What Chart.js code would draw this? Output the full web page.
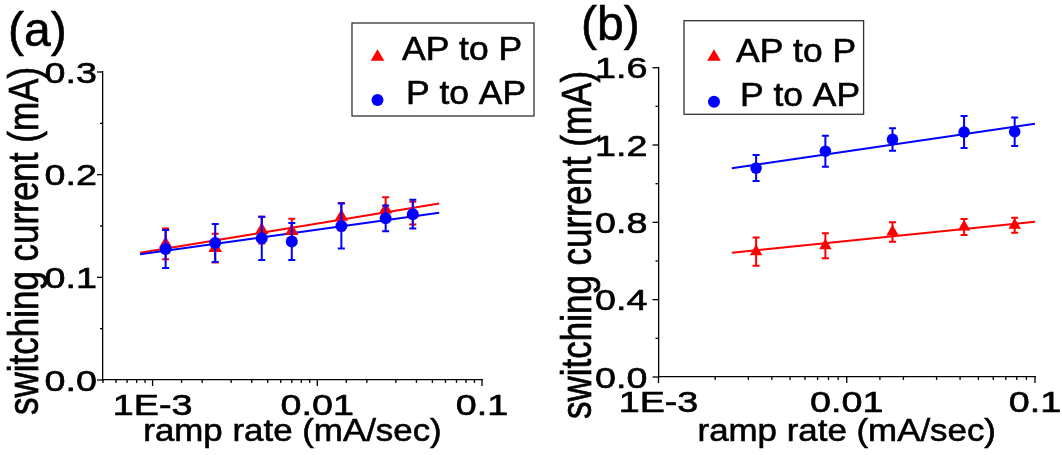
<!DOCTYPE html>
<html>
<head>
<meta charset="utf-8">
<title>switching current vs ramp rate</title>
<script src="https://cdn.jsdelivr.net/npm/chart.js@4.4.1/dist/chart.umd.min.js"></script>
<style>
  html, body { margin: 0; padding: 0; background: #fff; }
  #wrap { position: relative; width: 1062px; height: 455px; overflow: hidden; }
  .panel { position: absolute; top: 0; height: 455px; }
  #panelA { left: 0; width: 540px; }
  #panelB { left: 531px; width: 531px; }
</style>
</head>
<body>
<div id="wrap">
  <div class="panel" id="panelA"><canvas id="chartA"></canvas></div>
  <div class="panel" id="panelB"><canvas id="chartB"></canvas></div>
</div>
<script>
const FONT = '"Liberation Sans", Arial, sans-serif';
const RED = '#ff0000';
const BLUE = '#0000ff';
const seriesNames = ['AP to P', 'P to AP'];

// (a) ramp rate (mA/sec) and switching current (mA)
const rampA = [0.0012, 0.0024, 0.0046, 0.007, 0.014, 0.026, 0.038];
const apToPA = [0.1325, 0.1285, 0.146, 0.145, 0.159, 0.166, 0.1625];
const apToPErrA = [0.015, 0.014, 0.013, 0.012, 0.0135, 0.012, 0.011];
const pToApA = [0.1275, 0.1335, 0.138, 0.135, 0.150, 0.1575, 0.1615];
const pToApErrA = [0.0185, 0.0185, 0.021, 0.018, 0.022, 0.0125, 0.014];
const fitRampA = [0.00084, 0.055];
const fitApToPA = [0.124, 0.172];
const fitPToApA = [0.1225, 0.163];
const xTicksA = [0.001, 0.01, 0.1];
const xLabelsA = ['1E-3', '0.01', '0.1'];
const yTicksA = [0, 0.1, 0.2, 0.3];
const yLabelsA = ['0.0', '0.1', '0.2', '0.3'];

// (b)
const rampB = [0.0033, 0.0077, 0.0175, 0.042, 0.078];
const apToPB = [0.649, 0.679, 0.75, 0.776, 0.785];
const apToPErrB = [0.073, 0.065, 0.05, 0.041, 0.039];
const pToApB = [1.081, 1.168, 1.229, 1.267, 1.269];
const pToApErrB = [0.067, 0.08, 0.058, 0.083, 0.074];
const fitRampB = [0.00245, 0.1];
const fitApToPB = [0.643, 0.803];
const fitPToApB = [1.08, 1.31];
const xTicksB = [0.001, 0.01, 0.1];
const xLabelsB = ['1E-3', '0.01', '0.1'];
const yTicksB = [0, 0.4, 0.8, 1.2, 1.6];
const yLabelsB = ['0.0', '0.4', '0.8', '1.2', '1.6'];

const pts = (xs, ys) => xs.map((x, i) => ({ x, y: ys[i] }));

// text with an optional horizontal/vertical stretch, slightly thickened
function text(ctx, str, x, y, o) {
  ctx.save();
  ctx.translate(x, y);
  if (o.rotate) ctx.rotate(o.rotate);
  ctx.scale(o.sx || 1, o.sy || 1);
  ctx.font = o.font;
  ctx.fillStyle = '#000';
  ctx.strokeStyle = '#000';
  ctx.lineWidth = 0.6;
  ctx.textAlign = o.align || 'left';
  ctx.textBaseline = 'alphabetic';
  ctx.fillText(str, 0, 0);
  ctx.strokeText(str, 0, 0);
  ctx.restore();
}

function seg(ctx, x1, y1, x2, y2) {
  ctx.beginPath();
  ctx.moveTo(x1, y1);
  ctx.lineTo(x2, y2);
  ctx.stroke();
}

function triangle(ctx, cx, cy, w, h) {
  ctx.beginPath();
  ctx.moveTo(cx, cy - h / 2);
  ctx.lineTo(cx + w / 2, cy + h / 2);
  ctx.lineTo(cx - w / 2, cy + h / 2);
  ctx.closePath();
  ctx.fill();
}

// error bars, axis ticks, labels, titles and the boxed legend
const deco = {
  id: 'deco',
  afterDatasetDraw(chart, args) {
    const ds = chart.data.datasets[args.index];
    if (!ds.errors) return;
    const { ctx, scales: { x, y } } = chart;
    ctx.save();
    ctx.strokeStyle = ds.backgroundColor;
    ctx.lineWidth = 2;
    ds.data.forEach((p, i) => {
      const px = x.getPixelForValue(p.x);
      const top = y.getPixelForValue(p.y + ds.errors[i]);
      const bot = y.getPixelForValue(p.y - ds.errors[i]);
      ctx.beginPath();
      ctx.moveTo(px, top); ctx.lineTo(px, bot);
      ctx.moveTo(px - 3.5, top); ctx.lineTo(px + 3.5, top);
      ctx.moveTo(px - 3.5, bot); ctx.lineTo(px + 3.5, bot);
      ctx.stroke();
    });
    ctx.restore();
  },
  afterDraw(chart, args, o) {
    const { ctx, chartArea: area, scales: { x, y } } = chart;
    ctx.save();
    ctx.strokeStyle = '#000';
    ctx.lineWidth = 1.3;
    x.ticks.forEach(t => {
      const major = o.xTicks.some(v => Math.abs(t.value / v - 1) < 1e-6);
      const px = x.getPixelForValue(t.value);
      seg(ctx, px, area.bottom, px, area.bottom + (major ? 6 : 3));
    });
    y.ticks.forEach(t => {
      const major = o.yTicks.some(v => Math.abs(t.value - v) < 1e-9);
      const py = y.getPixelForValue(t.value);
      seg(ctx, area.left, py, area.left - (major ? 6 : 3), py);
    });
    ctx.restore();

    const tickFont = '29px ' + FONT;
    o.xTicks.forEach((v, i) => {
      text(ctx, o.xLabels[i], x.getPixelForValue(v), area.bottom + 35,
        { font: tickFont, sx: 1.3, align: 'center' });
    });
    o.yTicks.forEach((v, i) => {
      text(ctx, o.yLabels[i], area.left - o.yLabelGap, y.getPixelForValue(v) + 10.5,
        { font: tickFont, sx: 1.3, align: 'right' });
    });

    text(ctx, 'ramp rate (mA/sec)', (area.left + area.right) / 2, 441,
      { font: '32px ' + FONT, sx: 1.09, align: 'center' });
    text(ctx, 'switching current (mA)', o.yTitleX, o.yTitleY,
      { font: '35px ' + FONT, sy: 1.2, align: 'center', rotate: -Math.PI / 2 });
    text(ctx, o.tag, o.tagX, o.tagY, { font: '48px ' + FONT });

    // legend box
    const lg = o.legend;
    ctx.save();
    ctx.strokeStyle = '#333';
    ctx.lineWidth = 1.3;
    ctx.strokeRect(lg.x, lg.y, lg.w, lg.h);
    ctx.fillStyle = RED;
    triangle(ctx, lg.mx, lg.my[0], 13.7, 11.5);
    ctx.fillStyle = BLUE;
    ctx.beginPath();
    ctx.arc(lg.mx, lg.my[1], 6, 0, Math.PI * 2);
    ctx.fill();
    ctx.restore();
    seriesNames.forEach((name, i) => {
      text(ctx, name, lg.tx[i], lg.ty[i], { font: '32.5px ' + FONT, sx: 1.09 });
    });
  }
};

function makePanel(id, p) {
  return new Chart(document.getElementById(id), {
    type: 'scatter',
    data: {
      datasets: [
        {
          label: seriesNames[1],
          data: pts(p.ramp, p.pToAp),
          errors: p.pToApErr,
          backgroundColor: BLUE,
          pointStyle: 'circle',
          pointRadius: p.circleR,
          borderWidth: 0,
          order: 0
        },
        {
          label: seriesNames[0],
          data: pts(p.ramp, p.apToP),
          errors: p.apToPErr,
          backgroundColor: RED,
          pointStyle: 'triangle',
          pointRadius: p.triR,
          borderWidth: 0,
          order: 1
        },
        {
          type: 'line',
          label: 'P to AP fit',
          data: pts(p.fitRamp, p.fitPToAp),
          borderColor: BLUE,
          borderWidth: 2,
          pointRadius: 0,
          fill: false,
          order: 2
        },
        {
          type: 'line',
          label: 'AP to P fit',
          data: pts(p.fitRamp, p.fitApToP),
          borderColor: RED,
          borderWidth: 2,
          pointRadius: 0,
          fill: false,
          order: 3
        }
      ]
    },
    options: {
      responsive: true,
      maintainAspectRatio: false,
      animation: false,
      devicePixelRatio: 1,
      layout: { padding: { left: 0, top: p.top, right: p.right, bottom: 0 } },
      plugins: {
        legend: { display: false },
        tooltip: { enabled: false },
        deco: {
          xTicks: p.xTicks, xLabels: p.xLabels,
          yTicks: p.yTicks, yLabels: p.yLabels,
          yLabelGap: p.yLabelGap,
          yTitleX: p.yTitleX, yTitleY: p.yTitleY,
          tag: p.tag, tagX: p.tagX, tagY: p.tagY,
          legend: p.legend
        }
      },
      scales: {
        x: {
          type: 'logarithmic',
          min: p.xMin,
          max: p.xMax,
          ticks: { display: false },
          grid: { display: false },
          border: { display: true, color: '#000', width: 1.3 },
          afterFit: s => { s.height = 455 - p.bottom; }
        },
        y: {
          type: 'linear',
          min: 0,
          max: p.yMax,
          ticks: { display: false, stepSize: p.yStep },
          grid: { display: false },
          border: { display: true, color: '#000', width: 1.3 },
          afterFit: s => { s.width = p.left; }
        }
      }
    },
    plugins: [deco]
  });
}

makePanel('chartA', {
  ramp: rampA, apToP: apToPA, apToPErr: apToPErrA, pToAp: pToApA, pToApErr: pToApErrA,
  fitRamp: fitRampA, fitApToP: fitApToPA, fitPToAp: fitPToApA,
  xTicks: xTicksA, xLabels: xLabelsA, yTicks: yTicksA, yLabels: yLabelsA,
  xMin: 0.0005, xMax: 0.1, yMax: 0.3, yStep: 0.05,
  left: 103, top: 72, right: 58, bottom: 380,
  circleR: 6, triR: 7.8,
  yLabelGap: 6, yTitleX: 38, yTitleY: 241,
  tag: '(a)', tagX: 8, tagY: 46,
  legend: { x: 352, y: 23, w: 182, h: 93, mx: 377.5, my: [55, 100], tx: [402, 406], ty: [59.7, 104] }
});

makePanel('chartB', {
  ramp: rampB, apToP: apToPB, apToPErr: apToPErrB, pToAp: pToApB, pToApErr: pToApErrB,
  fitRamp: fitRampB, fitApToP: fitApToPB, fitPToAp: fitPToApB,
  xTicks: xTicksB, xLabels: xLabelsB, yTicks: yTicksB, yLabels: yLabelsB,
  xMin: 0.001, xMax: 0.1, yMax: 1.6, yStep: 0.2,
  left: 127.5, top: 67.7, right: 27, bottom: 377,
  circleR: 5.8, triR: 7.2,
  yLabelGap: 11, yTitleX: 60, yTitleY: 245,
  tag: '(b)', tagX: 50, tagY: 40,
  legend: { x: 153, y: 20.7, w: 179.6, h: 93.6, mx: 183, my: [55, 101.7], tx: [205, 209], ty: [61.7, 106] }
});
</script>
</body>
</html>
